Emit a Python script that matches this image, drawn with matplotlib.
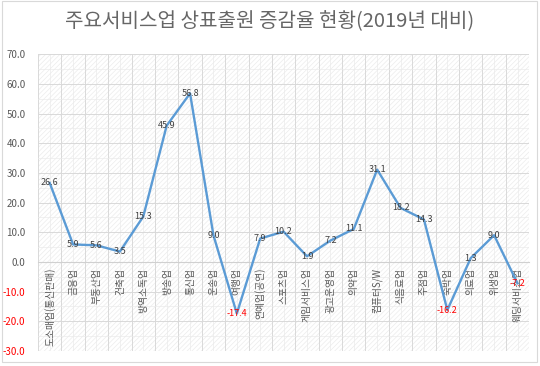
import matplotlib
matplotlib.use("Agg")
import matplotlib.pyplot as plt
import numpy as np
from matplotlib.ticker import MultipleLocator, FuncFormatter

plt.rcParams['font.family'] = ['Noto Sans CJK KR', 'DejaVu Sans']
plt.rcParams['hatch.color'] = '#ececec'
plt.rcParams['hatch.linewidth'] = 0.5

# data
categories = ["도소매업(통신판매)", "금융업", "부동산업", "건축업", "방역소독업",
              "방송업", "통신업", "운송업", "여행업", "연예업(공연)", "스포츠업",
              "게임서비스업", "광고운영업", "의약업", "컴퓨터S/W", "식음료업",
              "주점업", "숙박업", "의료업", "위생업", "웨딩서비스업"]
rates = [26.6, 5.9, 5.6, 3.5, 15.3, 45.9, 56.8, 9.0, -17.4, 7.9, 10.2,
         1.9, 7.2, 11.1, 31.1, 18.2, 14.3, -16.2, 1.3, 9.0, -7.2]
title = "주요서비스업 상표출원 증감율 현황(2019년 대비)"

fig = plt.figure(figsize=(5.4, 3.66), dpi=100)
ax = fig.add_axes([0.0704, 0.041, 0.9096, 0.811])

x = np.arange(len(categories))
ax.plot(x, rates, color='#5b9bd5', lw=1.7, zorder=3)

# data labels, centered on the points, negatives in red
for xi, v in zip(x, rates):
  col = '#ff0000' if v < 0 else '#404040'
  ax.text(xi, v, f"{v:.1f}", ha='center', va='center', fontsize=6.5,
          color=col, zorder=4)

# category names hang below the zero line, rotated
for xi, name in zip(x, categories):
  ax.annotate(name, (xi, 0), xytext=(0, -4), textcoords='offset points',
              rotation=90, ha='center', va='top', fontsize=7,
              color='#595959', zorder=2)

ax.set_xlim(-0.5, len(categories) - 0.5)
ax.set_ylim(-30, 70)
ax.yaxis.set_major_locator(MultipleLocator(10))
ax.yaxis.set_minor_locator(MultipleLocator(5))
ax.yaxis.set_major_formatter(FuncFormatter(lambda v, p: f"{v:.1f}"))
ax.set_xticks(x - 0.5)
ax.set_xticks(x, minor=True)
ax.set_xticklabels([])
ax.tick_params(axis='both', length=0, which='both')
ax.tick_params(axis='y', labelsize=7, labelcolor='#595959', pad=9)
for lab, v in zip(ax.get_yticklabels(), ax.get_yticks()):
  if v < 0:
    lab.set_color('#ff0000')

# hatched background and grid
ax.add_patch(plt.Rectangle((0, 0), 1, 1, transform=ax.transAxes,
                           facecolor='white', hatch='///////',
                           edgecolor='#ececec', lw=0, zorder=0))
ax.grid(True, which='major', color='#d9d9d9', lw=0.7)
ax.grid(True, which='minor', axis='y', color='#ebebeb', lw=0.5)
ax.grid(True, which='minor', axis='x', color='#ebebeb', lw=0.5)
ax.set_axisbelow(True)
for s in ['top', 'right', 'left']:
  ax.spines[s].set_visible(False)
ax.spines['bottom'].set_position(('data', 0))
ax.spines['bottom'].set_color('#d0d0d0')
ax.spines['bottom'].set_linewidth(0.8)

fig.text(0.5, 0.94, title, ha='center', va='center', fontsize=14.5,
         color='#666666')

# outer chart border
fig.patches.append(plt.Rectangle((0.004, 0.012), 0.99, 0.984,
                                 transform=fig.transFigure, fill=False,
                                 edgecolor='#d9d9d9', lw=0.8))

fig.savefig("out.png", dpi=100)
